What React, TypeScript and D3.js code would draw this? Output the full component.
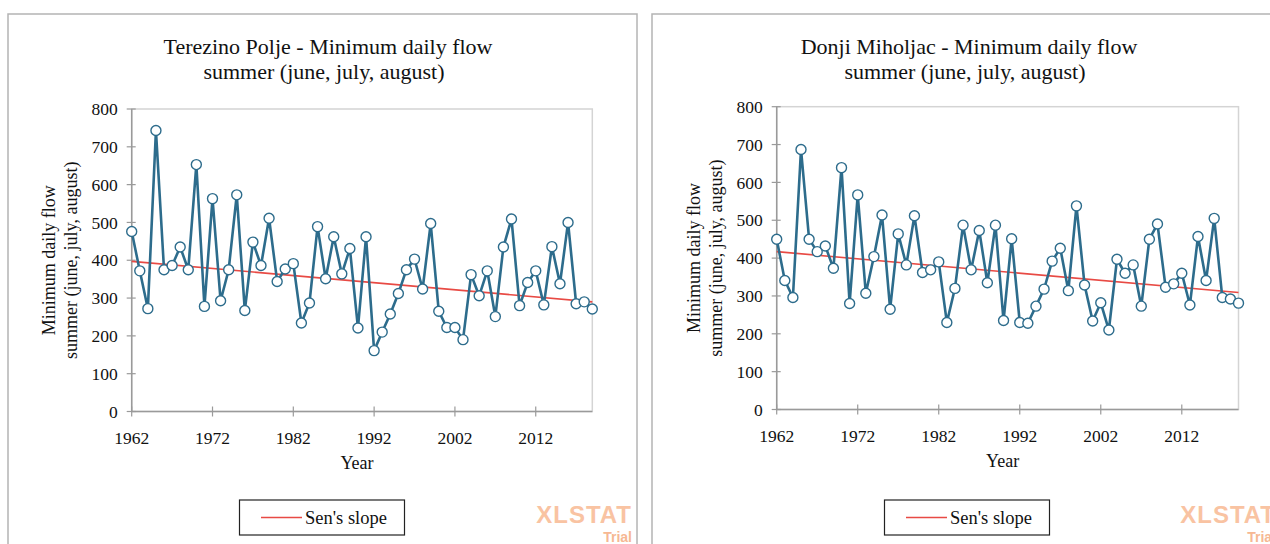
import React from "react";
import * as d3 from "d3";

const years = [
  1962, 1963, 1964, 1965, 1966, 1967, 1968, 1969, 1970, 1971,
  1972, 1973, 1974, 1975, 1976, 1977, 1978, 1979, 1980, 1981,
  1982, 1983, 1984, 1985, 1986, 1987, 1988, 1989, 1990, 1991,
  1992, 1993, 1994, 1995, 1996, 1997, 1998, 1999, 2000, 2001,
  2002, 2003, 2004, 2005, 2006, 2007, 2008, 2009, 2010, 2011,
  2012, 2013, 2014, 2015, 2016, 2017, 2018, 2019,
];

const terezinoFlow = [
  476, 372, 272, 743, 375, 386, 435, 375, 653, 278,
  563, 293, 375, 573, 267, 448, 386, 511, 344, 377,
  391, 234, 287, 489, 351, 462, 364, 431, 221, 462,
  161, 210, 258, 312, 375, 403, 324, 497, 265, 222,
  222, 190, 362, 306, 372, 251, 435, 509, 280, 341,
  372, 282, 436, 338, 500, 285, 290, 271,
];

const donjiFlow = [
  450, 341, 296, 687, 450, 417, 432, 373, 639, 280,
  567, 307, 404, 514, 265, 464, 382, 512, 362, 369,
  390, 230, 320, 487, 369, 473, 335, 487, 235, 451,
  230, 228, 273, 318, 392, 426, 314, 538, 329, 234,
  282, 210, 397, 360, 382, 273, 450, 490, 323, 332,
  360, 276, 457, 341, 505, 296, 292, 281,
];

// Sen's slope line: value at first and last year
const terezinoSen = [397, 290];
const donjiSen = [417, 309];

const xTickYears = [1962, 1972, 1982, 1992, 2002, 2012];
const yTickValues = [0, 100, 200, 300, 400, 500, 600, 700, 800];

const titles = [
  "Terezino Polje - Minimum daily flow",
  "Donji Miholjac - Minimum daily flow",
];
const subtitle = "summer (june, july, august)";
const yLabel1 = "Minimum daily flow";
const yLabel2 = "summer (june, july, august)";
const xLabel = "Year";
const legendLabel = "Sen's slope";

const SERIF = "'Liberation Serif', 'Times New Roman', serif";
const LINE_COLOR = "#2d6c8c";
const SEN_COLOR = "#e84a44";

type ChartProps = {
  frameX: number;
  frameW: number;
  plot: { left: number; right: number; top: number; bottom: number };
  values: number[];
  sen: number[];
  title: string;
  titleCx: number;
  legCx: number;
};

function Chart({ frameX, frameW, plot, values, sen, title, titleCx, legCx }: ChartProps) {
  const x = d3.scaleLinear().domain([1962, 2019]).range([plot.left, plot.right]);
  const y = d3.scaleLinear().domain([0, 800]).range([plot.bottom, plot.top]);
  const pts = years.map((yr, i) => [yr, values[i]] as [number, number]);
  const line = d3
    .line<[number, number]>()
    .x((d) => x(d[0]))
    .y((d) => y(d[1]));
  const senPts: [number, number][] = [
    [years[0], sen[0]],
    [years[years.length - 1], sen[1]],
  ];
  const plotCx = (plot.left + plot.right) / 2;
  const plotCy = (plot.top + plot.bottom) / 2;
  const legW = 165;
  const wmRight = frameX + 624;
  return (
    <g>
      <rect
        x={frameX}
        y={14}
        width={frameW}
        height={560}
        fill="#ffffff"
        stroke="#b4b4b4"
        strokeWidth={1.5}
      />
      {/* title */}
      <text x={titleCx} y={54} textAnchor="middle" fontFamily={SERIF} fontSize={22} fill="#111">
        {title}
      </text>
      <text x={titleCx - 4} y={79} textAnchor="middle" fontFamily={SERIF} fontSize={22} fill="#111">
        {subtitle}
      </text>
      {/* plot area border */}
      <rect
        x={plot.left}
        y={plot.top}
        width={plot.right - plot.left}
        height={plot.bottom - plot.top}
        fill="none"
        stroke="#d4d4d4"
        strokeWidth={1.5}
      />
      {/* axes */}
      <line x1={plot.left} x2={plot.left} y1={plot.top} y2={plot.bottom} stroke="#9a9a9a" strokeWidth={1.5} />
      <line x1={plot.left} x2={plot.right} y1={plot.bottom} y2={plot.bottom} stroke="#9a9a9a" strokeWidth={1.5} />
      {yTickValues.map((v) => (
        <g key={"yt" + v}>
          <line x1={plot.left - 5} x2={plot.left + 4} y1={y(v)} y2={y(v)} stroke="#9a9a9a" strokeWidth={1.2} />
          <text
            x={plot.left - 14}
            y={y(v)}
            dy="0.35em"
            textAnchor="end"
            fontFamily={SERIF}
            fontSize={17.5}
            fill="#111"
          >
            {v}
          </text>
        </g>
      ))}
      {xTickYears.map((v) => (
        <g key={"xt" + v}>
          <line x1={x(v)} x2={x(v)} y1={plot.bottom - 5} y2={plot.bottom + 5} stroke="#9a9a9a" strokeWidth={1.2} />
          <text x={x(v)} y={plot.bottom + 32} textAnchor="middle" fontFamily={SERIF} fontSize={17.5} fill="#111">
            {v}
          </text>
        </g>
      ))}
      {/* axis labels */}
      <text x={plotCx - 5} y={plot.bottom + 57} textAnchor="middle" fontFamily={SERIF} fontSize={18} fill="#111">
        {xLabel}
      </text>
      <text
        transform={`translate(${plot.left - 77},${plotCy}) rotate(-90)`}
        textAnchor="middle"
        fontFamily={SERIF}
        fontSize={18}
        fill="#111"
      >
        {yLabel1}
      </text>
      <text
        transform={`translate(${plot.left - 55},${plotCy}) rotate(-90)`}
        textAnchor="middle"
        fontFamily={SERIF}
        fontSize={18}
        fill="#111"
      >
        {yLabel2}
      </text>
      {/* sen's slope */}
      <path d={line(senPts) || ""} fill="none" stroke={SEN_COLOR} strokeWidth={1.6} />
      {/* series */}
      <path d={line(pts) || ""} fill="none" stroke={LINE_COLOR} strokeWidth={2.6} strokeLinejoin="miter" />
      {pts.map((d, i) => (
        <circle key={i} cx={x(d[0])} cy={y(d[1])} r={5} fill="#ffffff" stroke={LINE_COLOR} strokeWidth={1.4} />
      ))}
      {/* legend */}
      <rect x={legCx - legW / 2} y={500} width={legW} height={35} fill="#ffffff" stroke="#222" strokeWidth={1.2} />
      <line x1={legCx - 61} x2={legCx - 20} y1={517.5} y2={517.5} stroke={SEN_COLOR} strokeWidth={1.4} />
      <text x={legCx - 17} y={524} fontFamily={SERIF} fontSize={18.5} fill="#111">
        {legendLabel}
      </text>
      {/* watermark */}
      <text
        x={wmRight}
        y={523}
        textAnchor="end"
        fontFamily="'Liberation Sans', Arial, sans-serif"
        fontWeight="bold"
        fontSize={24}
        fill="#f9c3a2"
        letterSpacing={1}
      >
        XLSTAT
      </text>
      <text
        x={wmRight}
        y={542}
        textAnchor="end"
        fontFamily="'Liberation Sans', Arial, sans-serif"
        fontWeight="bold"
        fontSize={14}
        fill="#f6b893"
      >
        Trial
      </text>
    </g>
  );
}

export default function App() {
  return (
    <svg
      width={1270}
      height={544}
      style={{ position: "absolute", left: 0, top: 0, background: "#ffffff" }}
    >
      <rect x={0} y={0} width={1270} height={544} fill="#ffffff" />
      <Chart
        frameX={8}
        frameW={629}
        plot={{ left: 131.7, right: 592.3, top: 109, bottom: 411.5 }}
        values={terezinoFlow}
        sen={terezinoSen}
        title={titles[0]}
        titleCx={328}
        legCx={322}
      />
      <Chart
        frameX={652}
        frameW={640}
        plot={{ left: 776.7, right: 1238.5, top: 106.7, bottom: 409.5 }}
        values={donjiFlow}
        sen={donjiSen}
        title={titles[1]}
        titleCx={969}
        legCx={967}
      />
    </svg>
  );
}
